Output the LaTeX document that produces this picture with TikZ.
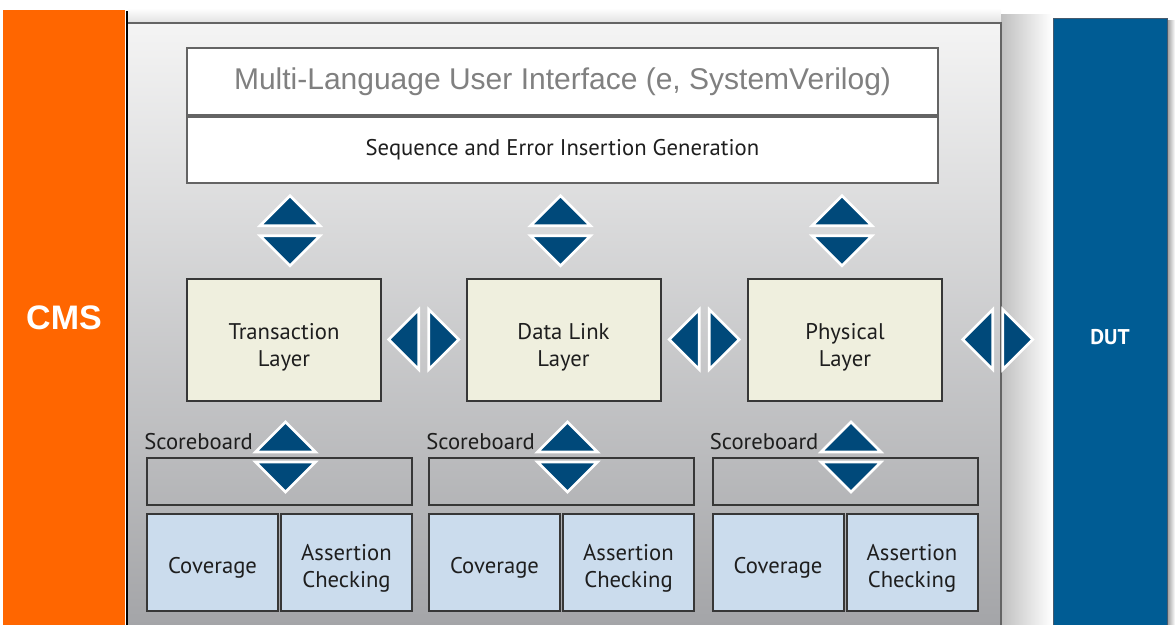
\documentclass[tikz,border=0pt]{standalone}
\usepackage{fontspec}
\setmainfont{PT Sans}
\newfontfamily\arialfont{Liberation Sans}
\usetikzlibrary{calc}
\definecolor{cmsorange}{RGB}{255,102,0}
\definecolor{dutblue}{RGB}{0,92,148}
\definecolor{dutline}{RGB}{70,90,110}
\definecolor{triblue}{RGB}{0,73,122}
\definecolor{layerfill}{RGB}{239,239,222}
\definecolor{covfill}{RGB}{203,220,237}
\definecolor{boxline}{RGB}{55,55,55}
\definecolor{boxtext}{RGB}{30,30,30}
\definecolor{uigray}{RGB}{128,128,128}
\definecolor{panelline}{RGB}{100,100,100}
\definecolor{paneltop}{RGB}{244,244,244}
\definecolor{panelbot}{RGB}{164,165,168}
\tikzset{
  cmsbox/.style = {fill=cmsorange, text=white, inner sep=0pt,
    minimum width=91.5pt, minimum height=461.25pt,
    font=\arialfont\bfseries\fontsize{25.5}{30}\selectfont},
  dutbox/.style = {fill=dutblue, draw=dutline, line width=0.75pt,
    minimum width=85.5pt, minimum height=455.25pt},
  dutlabel/.style = {text=white, font=\bfseries\fontsize{16}{19}\selectfont},
  uibox/.style = {draw=panelline, line width=1.5pt, fill=white,
    minimum width=563.25pt, minimum height=50.25pt, text=uigray,
    font=\arialfont\fontsize{22.5}{27}\selectfont},
  seqbox/.style = {uibox, text=boxtext, minimum height=49.5pt,
    font=\fontsize{17}{20}\selectfont},
  layer/.style = {draw=boxline, line width=1.5pt, fill=layerfill, align=center,
    minimum width=145.5pt, minimum height=91.5pt, text=boxtext,
    text height=40pt, text depth=0pt, font=\fontsize{17}{20}\selectfont},
  sbbox/.style = {draw=boxline, line width=1.5pt,
    minimum width=198.75pt, minimum height=35.25pt},
  sbtext/.style = {text=boxtext, inner sep=0pt, font=\fontsize{17}{20}\selectfont},
  covbox/.style = {draw=boxline, line width=1.5pt, fill=covfill, align=center,
    minimum width=98.25pt, minimum height=72.75pt, text=boxtext,
    font=\fontsize{17}{20}\selectfont},
  twoline/.style = {text height=37pt, text depth=0pt},
  oneline/.style = {text height=18pt, text depth=1pt},
  tri/.style = {fill=triblue, draw=white, line width=2pt}
}

\begin{document}
\begin{tikzpicture}[x=0.75pt,y=-0.75pt]
  \useasboundingbox (0,0) rectangle (1175,625);
  % shadows
  \shade[top color=white, bottom color=black!12] (128,8) rectangle (1001,23);
  \shade[left color=black!25, right color=white] (1001,14) rectangle (1052,625);
  \shade[left color=black!40, right color=white] (1167,20) rectangle (1175,625);
  % main panel
  \shade[top color=paneltop, bottom color=panelbot] (128,23) rectangle (1001,625);
  \draw[line width=1.2pt, panelline] (128,23) -- (1001,23) -- (1001,625);
  % side blocks
  \node[cmsbox] (cms) at (64,317.5) {CMS};
  \draw[line width=1.5pt] (127,11) -- (127,625);
  \node[dutbox] (dut) at (1110,321.5) {};
  \node[dutlabel] (dutname) at (1110,337) {DUT};
  % user interface
  \node[uibox] (ui) at (562.5,81.5) {Multi-Language User Interface (e, SystemVerilog)};
  \node[seqbox, anchor=north] (seq) at (ui.south) {Sequence and Error Insertion Generation};
  % layers
  \node[layer] (tl) at (284,339.5) {Transaction\\Layer};
  \node[layer] (dl) at (563.5,339.5) {Data Link\\Layer};
  \node[layer] (pl) at (845,339.5) {Physical\\Layer};
  % scoreboards
  \foreach \i/\x in {1/279.5, 2/561.5, 3/845} {
    \node[sbbox] (sb\i) at (\x,481.5) {};
    \node[sbtext, anchor=base west] (sbl\i) at ($(sb\i.north west)+(-2,-8)$) {Scoreboard};
    \node[covbox, oneline, anchor=north west] (cov\i) at ($(sb\i.south west)+(0,7)$) {Coverage};
    \node[covbox, twoline, anchor=north east] (ac\i) at ($(sb\i.south east)+(0,7)$) {Assertion\\Checking};
    \coordinate (b\i) at ($(sb\i.north)+(6,0)$);
  }
  % arrow pairs
  \foreach \l/\dx [count=\i] in {tl/6,dl/-3,pl/-3}
    \coordinate (v\i) at ($(\l.north)!0.5!(\l.north |- seq.south)+(\dx,0)$);
  \coordinate (h1) at ($(tl.east)!0.5!(dl.west)$);
  \coordinate (h2) at ($(dl.east)!0.5!(pl.west)$);
  \coordinate (h3) at ($(pl.east)!0.5!(pl.east -| dut.west)$);
  \foreach \c/\r in {v1/0,v2/0,v3/0,b1/0,b2/0,b3/0,h1/90,h2/90,h3/90}
    \filldraw[tri, shift={(\c)}, rotate=\r] (-30,-5) -- (30,-5) -- (0,-35) -- cycle
                                            (-30,5) -- (30,5) -- (0,35) -- cycle;
\end{tikzpicture}
\end{document}
